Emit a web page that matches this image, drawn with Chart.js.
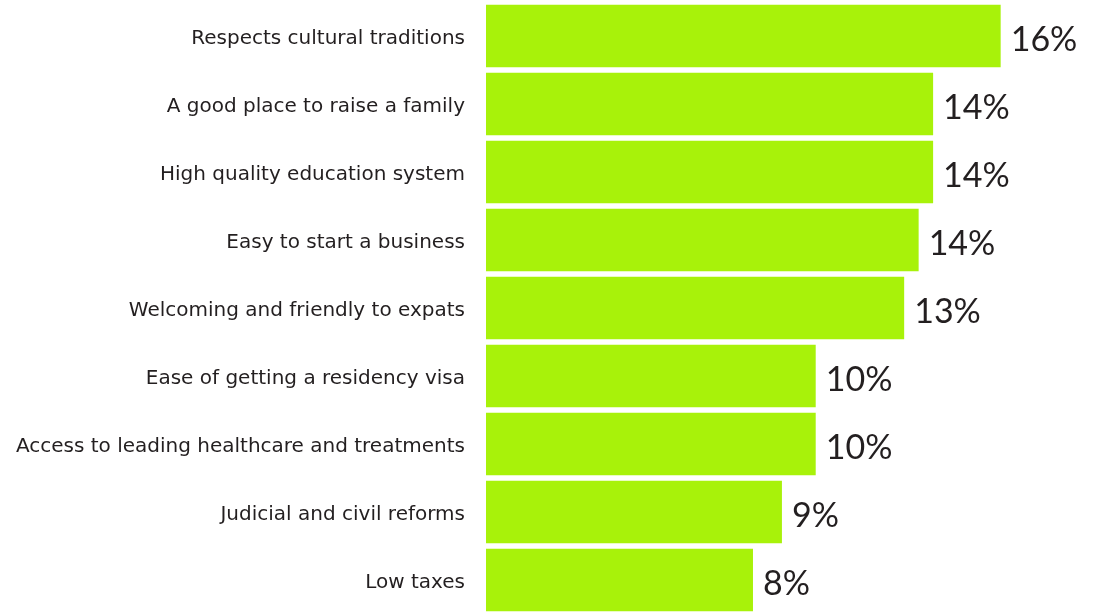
<!DOCTYPE html>
<html>
<head>
<meta charset="utf-8">
<script src="https://cdn.jsdelivr.net/npm/chart.js@4/dist/chart.umd.min.js"></script>
<style>
  html, body { margin: 0; padding: 0; background: #fff; overflow: hidden; }
  canvas { display: block; }
</style>
</head>
<body>
<canvas id="chart" width="1093" height="614"></canvas>
<script>
// reasons, top to bottom
var categories = [
    'Respects cultural traditions',
    'A good place to raise a family',
    'High quality education system',
    'Easy to start a business',
    'Welcoming and friendly to expats',
    'Ease of getting a residency visa',
    'Access to leading healthcare and treatments',
    'Judicial and civil reforms',
    'Low taxes'
];
// share of respondents (%)
var shares = [16.0, 13.9, 13.9, 13.45, 13.0, 10.25, 10.25, 9.2, 8.3];
// labels as printed next to the bars
var shareLabels = ['16%', '14%', '14%', '14%', '13%', '10%', '10%', '9%', '8%'];

var textColor = '#231f20';
var labelFont = '"DejaVu Sans", sans-serif';
var valueFont = 'Lato, "Noto Sans", sans-serif';

// writes the printed value to the right of each bar
var valueLabels = {
    id: 'valueLabels',
    afterDatasetsDraw: function (chart) {
        var c = chart.ctx;
        var meta = chart.getDatasetMeta(0);
        c.save();
        c.fillStyle = textColor;
        c.font = '34px ' + valueFont;
        c.textAlign = 'left';
        c.textBaseline = 'middle';
        meta.data.forEach(function (bar, i) {
            c.fillText(shareLabels[i], bar.x + 10, bar.y + 4);
        });
        c.restore();
    }
};

var ctx = document.getElementById('chart').getContext('2d');
var chart = new Chart(ctx, {
    type: 'bar',
    data: {
        labels: categories,
        datasets: [{
            data: shares,
            backgroundColor: '#a8f20a',
            borderWidth: 0,
            barPercentage: 0.922,
            categoryPercentage: 1
        }]
    },
    options: {
        responsive: false,
        indexAxis: 'y',
        animation: false,
        layout: { padding: { top: 2, bottom: -1, left: 0, right: 28 } },
        plugins: {
            legend: { display: false },
            tooltip: { enabled: false }
        },
        scales: {
            x: {
                display: false,
                min: 0,
                max: 18
            },
            y: {
                grid: { display: false, drawTicks: false },
                border: { display: false },
                afterFit: function (axis) {
                    axis.width = 486;
                    // bars run edge to edge, no room needed for end labels
                    axis.paddingTop = 0;
                    axis.paddingBottom = 0;
                },
                ticks: {
                    color: textColor,
                    padding: 21,
                    labelOffset: 3,
                    font: { family: labelFont, size: 20 }
                }
            }
        }
    },
    plugins: [valueLabels]
});
</script>
</body>
</html>
